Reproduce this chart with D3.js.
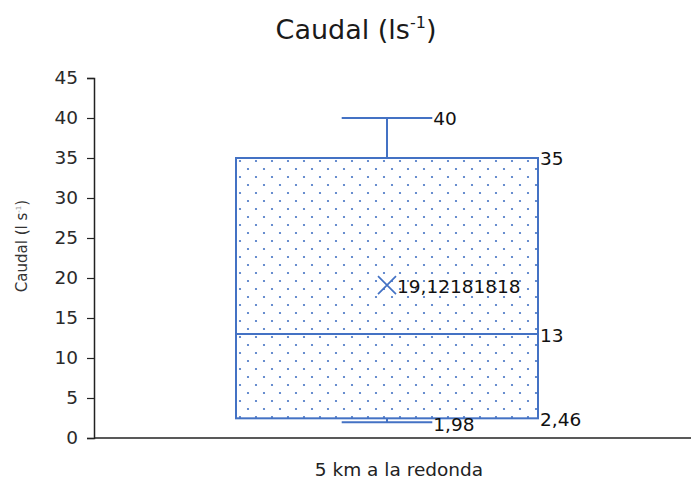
<!DOCTYPE html>
<html><head><meta charset="utf-8">
<script src="https://cdn.jsdelivr.net/npm/d3@7"></script>
<style>
body{margin:0;background:#fff;}
svg{display:block;font-family:"DejaVu Sans",sans-serif;}
</style></head>
<body>
<svg id="chart" width="691" height="480"></svg>
<script>
const categories = ["5 km a la redonda"];
const minValues = [1.98];
const q1Values = [2.46];
const medianValues = [13];
const q3Values = [35];
const maxValues = [40];
const meanValues = [19.12181818];
const yTicks = [0,5,10,15,20,25,30,35,40,45];

const svg = d3.select("#chart");
const W = 691, H = 480;
const blue = "#4472C4";
const fmt = v => String(v).replace(".", ",");

const y = d3.scaleLinear().domain([0,45]).range([438,78]);
const x = d3.scaleBand().domain(categories).range([94,680]).paddingInner(0).paddingOuter(0);
const boxW = 302;

// pattern
const defs = svg.append("defs");
const pat = defs.append("pattern").attr("id","dots").attr("patternUnits","userSpaceOnUse")
  .attr("width",16).attr("height",16).attr("x",236).attr("y",157);
pat.append("rect").attr("width",16).attr("height",16).attr("fill","#fff");
pat.append("circle").attr("cx",4).attr("cy",4).attr("r",1.1).attr("fill",blue);
pat.append("circle").attr("cx",12).attr("cy",12).attr("r",1.1).attr("fill",blue);

// title
const title = svg.append("text").attr("x",356).attr("y",39).attr("text-anchor","middle")
  .attr("font-size",27).attr("fill","#1a1a1a");
title.append("tspan").text("Caudal (ls");
title.append("tspan").attr("font-size",16).attr("dy",-11).text("-1");
title.append("tspan").attr("dy",11).text(")");

// y axis
const yAxis = svg.append("g").attr("transform","translate(94,0)")
  .call(d3.axisLeft(y).tickValues(yTicks).tickSize(7).tickPadding(9).tickFormat(d3.format("d")));
yAxis.select(".domain").attr("stroke","#222").attr("stroke-width",1.5);
yAxis.selectAll(".tick line").attr("stroke","#222").attr("stroke-width",1.2);
yAxis.selectAll(".tick text").attr("font-size",18.5).attr("fill","#2a2a2a").attr("font-family","DejaVu Sans");

// y title
const yt = svg.append("text").attr("transform","translate(27,246) rotate(-90)")
  .attr("text-anchor","middle").attr("font-size",15).attr("fill","#333");
yt.append("tspan").text("Caudal (l s");
yt.append("tspan").attr("font-size",7).attr("dy",-6).attr("fill","#999").text("-1");
yt.append("tspan").attr("dy",6).text(")");

// x axis line
svg.append("line").attr("x1",94).attr("x2",W).attr("y1",y(0)).attr("y2",y(0))
  .attr("stroke","#222").attr("stroke-width",1.5);

// category label
svg.selectAll(".cat").data(categories).join("text").attr("class","cat")
  .attr("x",d=>x(d)+x.bandwidth()/2+12).attr("y",476)
  .attr("text-anchor","middle").attr("font-size",18.5).attr("fill","#222").text(d=>d);

// boxes
const data = categories.map((c,i)=>({c,min:minValues[i],q1:q1Values[i],med:medianValues[i],q3:q3Values[i],max:maxValues[i],mean:meanValues[i]}));
const g = svg.selectAll(".box").data(data).join("g").attr("class","box");
const cx = d => x(d.c)+x.bandwidth()/2;
const capW = boxW*0.3;

// whiskers
g.append("line").attr("x1",cx).attr("x2",cx).attr("y1",d=>y(d.max)).attr("y2",d=>y(d.q3))
  .attr("stroke",blue).attr("stroke-width",2);
g.append("line").attr("x1",cx).attr("x2",cx).attr("y1",d=>y(d.min)).attr("y2",d=>y(d.q1))
  .attr("stroke",blue).attr("stroke-width",2);
g.append("line").attr("x1",d=>cx(d)-capW/2).attr("x2",d=>cx(d)+capW/2).attr("y1",d=>y(d.max)).attr("y2",d=>y(d.max))
  .attr("stroke",blue).attr("stroke-width",2);
g.append("line").attr("x1",d=>cx(d)-capW/2).attr("x2",d=>cx(d)+capW/2).attr("y1",d=>y(d.min)).attr("y2",d=>y(d.min))
  .attr("stroke",blue).attr("stroke-width",2);

// box
g.append("rect").attr("x",d=>cx(d)-boxW/2).attr("width",boxW)
  .attr("y",d=>y(d.q3)).attr("height",d=>y(d.q1)-y(d.q3))
  .attr("fill","url(#dots)").attr("stroke",blue).attr("stroke-width",2);
// median
g.append("line").attr("x1",d=>cx(d)-boxW/2).attr("x2",d=>cx(d)+boxW/2).attr("y1",d=>y(d.med)).attr("y2",d=>y(d.med))
  .attr("stroke",blue).attr("stroke-width",2);
// mean x
const m = 9;
g.append("path").attr("d",d=>`M${cx(d)-m},${y(d.mean)-m}L${cx(d)+m},${y(d.mean)+m}M${cx(d)-m},${y(d.mean)+m}L${cx(d)+m},${y(d.mean)-m}`)
  .attr("stroke",blue).attr("stroke-width",1.7).attr("fill","none");

// labels
const lbl = (sel, xf, yf, tf) => sel.append("text").attr("x",xf).attr("y",yf).attr("dy","0.36em")
  .attr("font-size",18.5).attr("fill","#111").text(tf);
lbl(g, d=>cx(d)+capW/2+1, d=>y(d.max), d=>fmt(d.max));
lbl(g, d=>cx(d)+boxW/2+2, d=>y(d.q3), d=>fmt(d.q3));
lbl(g, d=>cx(d)+boxW/2+2, d=>y(d.med)+1, d=>fmt(d.med));
lbl(g, d=>cx(d)+boxW/2+2, d=>y(d.q1)+1, d=>fmt(d.q1));
lbl(g, d=>cx(d)+capW/2+1, d=>y(d.min)+2, d=>fmt(d.min));
lbl(g, d=>cx(d)+m+1, d=>y(d.mean)+1, d=>fmt(d.mean));
</script>
</body></html>
